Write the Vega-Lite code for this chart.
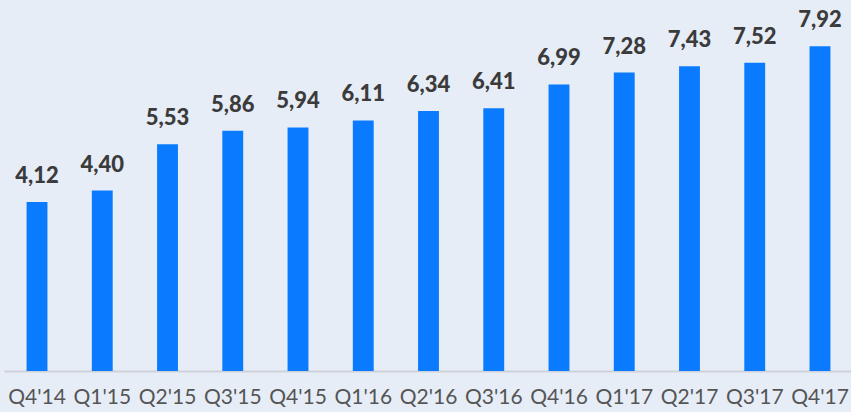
{
  "$schema": "https://vega.github.io/schema/vega-lite/v6.json",
  "width": 849,
  "height": 369,
  "autosize": "none",
  "padding": {"left": 4, "top": 2, "right": 0, "bottom": 41},
  "background": "#e6edf7",
  "config": {
    "view": {"stroke": null},
    "locale": {"number": {"decimal": ",", "thousands": ".", "grouping": [3], "currency": ["", " €"]}}
  },
  "data": {
    "values": [
      {"q": "Q4'14", "v": 4.12},
      {"q": "Q1'15", "v": 4.40},
      {"q": "Q2'15", "v": 5.53},
      {"q": "Q3'15", "v": 5.86},
      {"q": "Q4'15", "v": 5.94},
      {"q": "Q1'16", "v": 6.11},
      {"q": "Q2'16", "v": 6.34},
      {"q": "Q3'16", "v": 6.41},
      {"q": "Q4'16", "v": 6.99},
      {"q": "Q1'17", "v": 7.28},
      {"q": "Q2'17", "v": 7.43},
      {"q": "Q3'17", "v": 7.52},
      {"q": "Q4'17", "v": 7.92}
    ]
  },
  "encoding": {
    "x": {
      "field": "q", "type": "nominal", "sort": null,
      "scale": {"paddingInner": 0.68, "paddingOuter": 0.346},
      "axis": {
        "title": null, "labelAngle": 0, "ticks": false,
        "domainColor": "#cdd2da", "domainWidth": 2,
        "labelFont": "Lato", "labelFontSize": 21, "labelColor": "#555555",
        "labelPadding": 15
      }
    },
    "y": {
      "field": "v", "type": "quantitative",
      "scale": {"domain": [0, 9], "nice": false},
      "axis": null
    }
  },
  "layer": [
    {"mark": {"type": "bar", "color": "#0a7bff"}},
    {
      "mark": {"type": "text", "dy": -19, "baseline": "alphabetic", "font": "Lato", "fontWeight": 900, "fontSize": 22, "color": "#3b3b3b"},
      "encoding": {"text": {"field": "v", "type": "quantitative", "format": ".2f"}}
    }
  ]
}
